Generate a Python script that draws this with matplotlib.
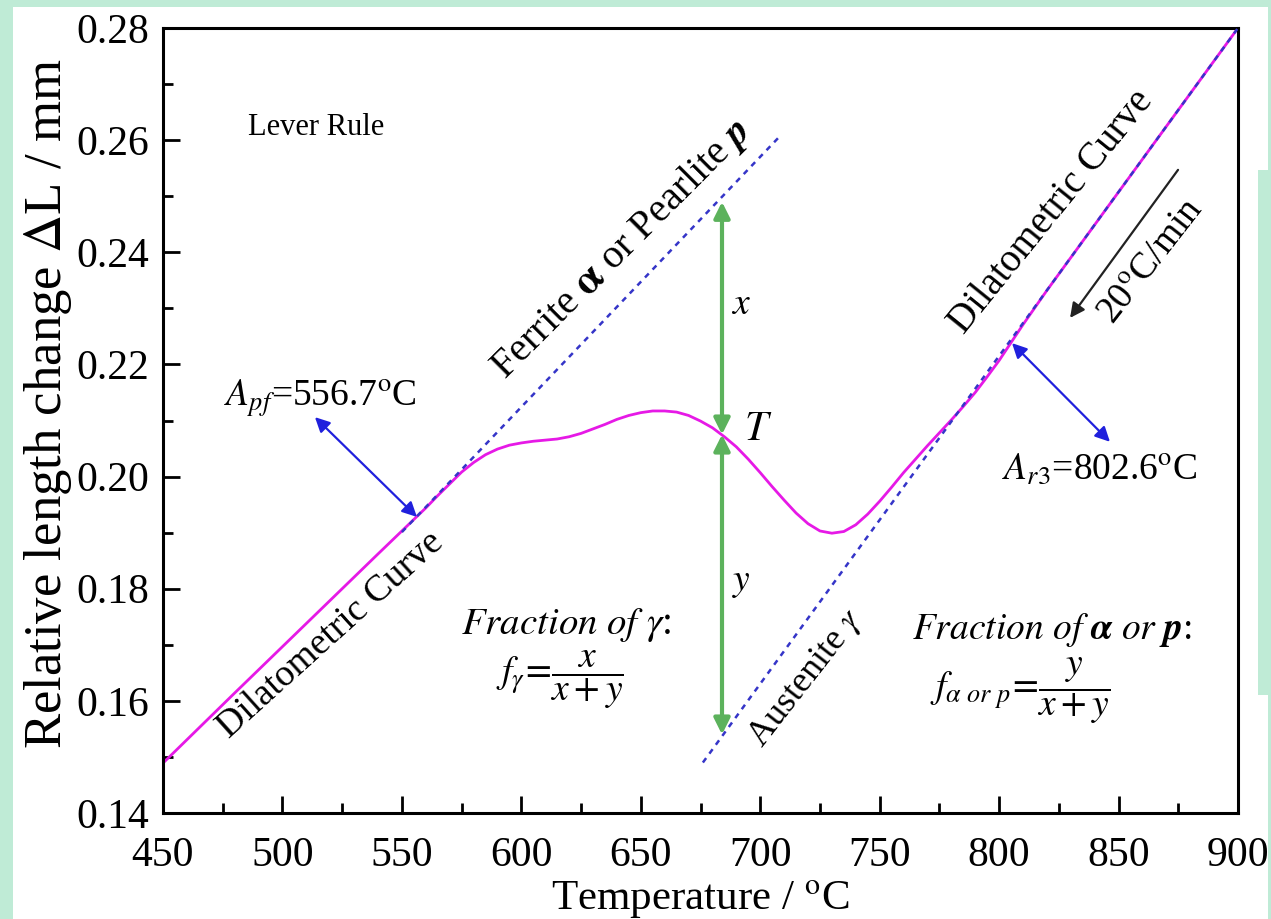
import matplotlib
matplotlib.use("Agg")
import matplotlib.pyplot as plt
from matplotlib.patches import Rectangle

plt.rcParams['font.family'] = ['Liberation Serif', 'DejaVu Serif']
plt.rcParams['mathtext.fontset'] = 'stix'

# ---- data ----
temp = [450, 480, 510, 540, 560, 565, 570, 575, 580, 585, 590, 595, 600, 605,
        610, 615, 620, 625, 630, 635, 640, 645, 650, 655, 660, 665, 670, 675,
        680, 685, 690, 695, 700, 705, 710, 715, 720, 725, 730, 735, 740, 745,
        750, 755, 760, 765, 770, 775, 780, 785, 790, 795, 800, 805, 810, 820,
        900]
dL = [0.1489, 0.1614, 0.1738, 0.1862, 0.1944, 0.1966, 0.1987, 0.2008, 0.2025,
      0.2039, 0.2049, 0.2056, 0.2060, 0.2063, 0.2065, 0.2067, 0.2071, 0.2077,
      0.2085, 0.2093, 0.2102, 0.2109, 0.2114, 0.2117, 0.2117, 0.2115, 0.2109,
      0.2099, 0.2087, 0.2071, 0.2053, 0.2031, 0.2007, 0.1982, 0.1958, 0.1935,
      0.1916, 0.1903, 0.1899, 0.1902, 0.1914, 0.1933, 0.1956, 0.1981, 0.2007,
      0.2031, 0.2055, 0.2078, 0.2101, 0.2125, 0.2150, 0.2178, 0.2207, 0.2239,
      0.2271, 0.2332, 0.2800]

ferrite_T = [550, 708]
ferrite_L = [0.1901, 0.2606]
aust_T = [676, 900]
aust_L = [0.1490, 0.2800]

T_lever = 684
L_T = 0.2075
L_top = 0.2490
L_bot = 0.1540

xticks = [450, 500, 550, 600, 650, 700, 750, 800, 850, 900]
yticks = [0.14, 0.16, 0.18, 0.20, 0.22, 0.24, 0.26, 0.28]

# ---- figure ----
W, H = 1271, 919
fig = plt.figure(figsize=(W / 100, H / 100), dpi=100)
fig.patch.set_facecolor('#bfebd6')
for (x0, y0, w, h) in [(13, 7, 1245, 912), (1258, 7, 10, 163), (1258, 695, 10, 224)]:
    r = Rectangle((x0 / W, 1 - (y0 + h) / H), w / W, h / H,
                  transform=fig.transFigure, facecolor='white',
                  edgecolor='none', zorder=-5)
    fig.add_artist(r)

ax = fig.add_axes([163 / W, 1 - 813 / H, (1238 - 163) / W, (813 - 28) / H])
ax.set_zorder(1)
ax.set_facecolor('white')
ax.set_xlim(450, 900)
ax.set_ylim(0.14, 0.28)

ax.plot(ferrite_T, ferrite_L, color='#3535c8', lw=1.8, ls=(0, (2.2, 2.2)), zorder=3)
ax.plot(aust_T, aust_L, color='#3535c8', lw=1.8, ls=(0, (2.2, 2.2)), zorder=3)
ax.plot(temp, dL, color='#e619e6', lw=2.0, zorder=2)

# lever arrows
for y0, y1 in [(L_T, L_top), (L_T, L_bot)]:
    ax.annotate('', xy=(T_lever, y1), xytext=(T_lever, y0),
                arrowprops=dict(arrowstyle='<|-|>', color='#5cb25c', lw=3,
                                mutation_scale=24, shrinkA=0, shrinkB=0))

# blue arrows
ax.annotate('', xy=(513.6, 0.2106), xytext=(556.3, 0.1928),
            arrowprops=dict(arrowstyle='<|-|>', color='#2020dd', lw=1.6,
                            mutation_scale=22, shrinkA=0, shrinkB=0))
ax.annotate('', xy=(846.4, 0.2062), xytext=(805.4, 0.2238),
            arrowprops=dict(arrowstyle='<|-|>', color='#2020dd', lw=1.6,
                            mutation_scale=22, shrinkA=0, shrinkB=0))
# black arrow
ax.annotate('', xy=(829.7, 0.2283), xytext=(874.9, 0.2547),
            arrowprops=dict(arrowstyle='-|>', color='#222222', lw=1.6,
                            mutation_scale=22, shrinkA=0, shrinkB=0))

# texts
ax.text(485.6, 0.2622, 'Lever Rule', fontsize=22, ha='left', va='center')
ax.text(642, 0.2406, r'Ferrite $\mathbf{\alpha}$ or Pearlite $\boldsymbol{p}$',
        fontsize=29, rotation=45, ha='center', va='center', rotation_mode='anchor')
ax.text(520, 0.1717, 'Dilatometric Curve', fontsize=27, rotation=42,
        ha='center', va='center', rotation_mode='anchor')
ax.text(822, 0.2472, 'Dilatometric Curve', fontsize=28, rotation=51,
        ha='center', va='center', rotation_mode='anchor')
ax.text(864, 0.2383, r'20$^{\mathrm{o}}$C/min', fontsize=27, rotation=52,
        ha='center', va='center', rotation_mode='anchor')
ax.text(719, 0.1641, r'Austenite $\gamma$', fontsize=26, rotation=52,
        ha='center', va='center', rotation_mode='anchor')
ax.text(516, 0.2139, r'$A_{pf}$=556.7$^{\mathrm{o}}$C', fontsize=27,
        ha='center', va='center')
ax.text(842, 0.2013, r'$A_{r3}$=802.6$^{\mathrm{o}}$C', fontsize=27,
        ha='center', va='center')
ax.text(692, 0.2306, r'$x$', fontsize=27, ha='center', va='center')
ax.text(699, 0.2083, r'$T$', fontsize=30, ha='center', va='center')
ax.text(692, 0.1810, r'$y$', fontsize=27, ha='center', va='center')
ax.text(619, 0.1735, r'$\mathit{Fraction\ of\ \gamma}$:', fontsize=28,
        ha='center', va='center')
ax.text(616, 0.1637, r'$f_{\gamma}\!=\!\dfrac{x}{x+y}$', fontsize=27,
        ha='center', va='center')
ax.text(822, 0.1726, r'$\mathit{Fraction\ of}\ \boldsymbol{\alpha}\ \mathit{or}\ \boldsymbol{p}$:',
        fontsize=27, ha='center', va='center')
ax.text(809, 0.1619, r'$f_{\alpha\ or\ p}\!=\!\dfrac{y}{x+y}$', fontsize=27,
        ha='center', va='center')

# axes styling
ax.set_xticks(xticks)
ax.set_yticks(yticks)
ax.set_xticklabels([str(v) for v in xticks])
ax.set_yticklabels([f'{v:.2f}' for v in yticks])
ax.set_xticks([475 + 50 * i for i in range(9)], minor=True)
ax.set_yticks([0.15 + 0.02 * i for i in range(7)], minor=True)
ax.tick_params(which='both', direction='in', top=False, right=False, width=2)
ax.tick_params(which='major', length=12, labelsize=30)
ax.tick_params(axis='y', which='major', pad=10)
ax.tick_params(axis='x', which='major', pad=17)
ax.tick_params(which='minor', length=7)
for s in ax.spines.values():
    s.set_linewidth(2.2)
ax.set_xlabel(r'Temperature / $^{\mathrm{o}}$C', fontsize=31)
ax.xaxis.set_label_coords(0.5, -0.111)
ax.xaxis.label.set_va('center')
ax.set_ylabel(r'Relative length change $\Delta$L / mm', fontsize=38)
ax.yaxis.set_label_coords(-0.107, 0.522)
ax.yaxis.label.set_va('center')

fig.savefig('out.png', dpi=100, facecolor=fig.get_facecolor())
